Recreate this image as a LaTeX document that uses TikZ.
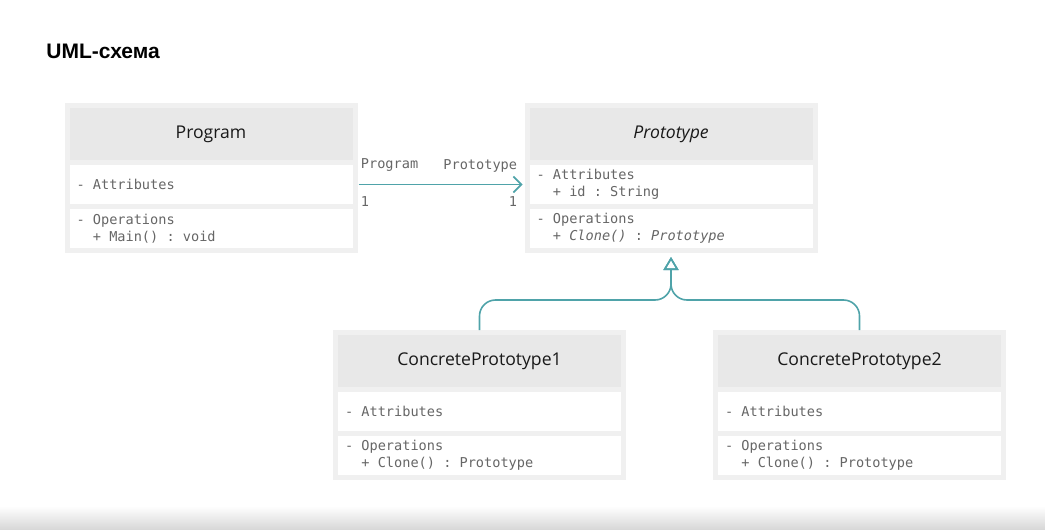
\documentclass[tikz,border=0pt]{standalone}
\usepackage{fontspec}
\setmainfont{Open Sans}
\newfontfamily\umlmono{DejaVu Sans Mono}
\newfontfamily\titlefont{Liberation Sans}
\usetikzlibrary{positioning,arrows.meta,calc,backgrounds}
\definecolor{umlteal}{HTML}{4FA3A9}
\definecolor{hdrgray}{HTML}{E8E8E8}
\definecolor{txtgray}{HTML}{666666}
\definecolor{halogray}{HTML}{F0F0F0}
% mono text with full-width spaces
\newcommand\monotext[1]{\umlmono\fontsize{#1}{8.5}\selectfont}
\newcommand\monospaces{\spaceskip=0.602em\relax\xspaceskip=0.602em\relax}

\begin{document}
\begin{tikzpicture}[
  x=0.5pt, y=-0.5pt,
  hdr/.style={fill=hdrgray, minimum width=141.5pt, minimum height=26pt,
              inner sep=0pt, outer sep=0pt, text=black!90,
              font=\fontsize{8.8}{10}\selectfont},
  sect/.style={fill=white, minimum width=141.5pt, text width=134.5pt,
               inner xsep=3.5pt, inner ysep=0pt, outer sep=0pt, align=left,
               text=txtgray, font=\monotext{6.8},
               execute at begin node=\monospaces},
  attrs/.style={sect, minimum height=19.5pt},
  opers/.style={sect, minimum height=19.5pt},
  lbl/.style={inner sep=1pt, text=txtgray, font=\monotext{6.8}},
  assoc/.style={-{Straight Barb[length=4pt, width=8pt]}, umlteal, line width=0.8pt,
                shorten <=3pt, shorten >=3.5pt},
  inh/.style={-{Triangle[open, length=6.5pt, width=7.5pt]}, umlteal, line width=0.8pt,
              rounded corners=8pt, shorten <=2.5pt},
]
\useasboundingbox (0,0) rectangle (1045,530);
\fill[top color=white, bottom color=black!16] (0,506) rectangle (1045,530);

\node[anchor=west, inner sep=0pt, font=\titlefont\bfseries\fontsize{10.5}{12}\selectfont] (title)
  at (46,51) {UML-схема};

% ---- Program ----
\node[hdr] (progH) at (211,134) {Program};
\node[attrs, below=2.5pt of progH] (progA) {- Attributes};
\node[opers, below=2.5pt of progA] (progO)
  {- Operations\\\phantom{- }+ Main() : void};

% ---- Prototype ----
\node[hdr] (protoH) at (671,134) {\itshape Prototype};
\node[attrs, below=2.5pt of protoH] (protoA)
  {- Attributes\\\phantom{- }+ id : String};
\node[opers, below=2.5pt of protoA] (protoO)
  {- Operations\\\phantom{- }+ \textit{Clone()} : \textit{Prototype}};

% ---- concrete prototypes ----
\node[hdr] (cp1H) at (479.5,361) {ConcretePrototype1};
\node[attrs, below=2.5pt of cp1H] (cp1A) {- Attributes};
\node[opers, below=2.5pt of cp1A] (cp1O)
  {- Operations\\\phantom{- }+ Clone() : Prototype};

\node[hdr] (cp2H) at (859.5,361) {ConcretePrototype2};
\node[attrs, below=2.5pt of cp2H] (cp2A) {- Attributes};
\node[opers, below=2.5pt of cp2A] (cp2O)
  {- Operations\\\phantom{- }+ Clone() : Prototype};

% soft halo round each class
\begin{scope}[on background layer]
\foreach \h/\o in {progH/progO, protoH/protoO, cp1H/cp1O, cp2H/cp2O}
  \fill[halogray] ($(\h.north west)+(-2.5pt,2.5pt)$) rectangle ($(\o.south east)+(2.5pt,-2.5pt)$);
\end{scope}

% ---- association ----
\draw[assoc] (progA.east) -- (protoA.west);
\node[lbl, anchor=west] (roleL) at ($(progA.east)+(3pt,9.5pt)$) {Program};
\node[lbl, anchor=east] (roleR) at ($(protoA.west)+(-5pt,9.5pt)$) {Prototype};
\node[lbl, anchor=west] (multL) at ($(progA.east)+(3pt,-8.5pt)$) {1};
\node[lbl, anchor=east] (multR) at ($(protoA.west)+(-5pt,-8.5pt)$) {1};

% ---- inheritance ----
\coordinate (tip) at ($(protoO.south)+(0,-4.5pt)$);
\coordinate (fork) at ($(tip)+(0,-21.5pt)$);
\draw[inh] (cp1H.north) |- (fork) -- (tip);
\draw[inh] (cp2H.north) |- (fork) -- (tip);
\end{tikzpicture}
\end{document}
